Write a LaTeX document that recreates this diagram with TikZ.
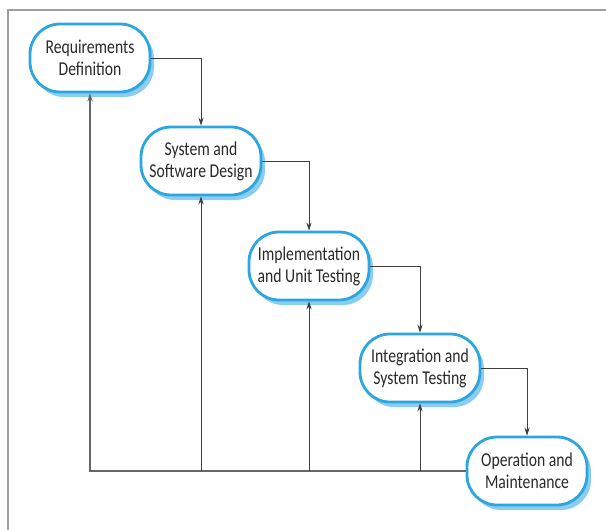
\documentclass[tikz,border=0pt]{standalone}
\usepackage{fontspec}
\newfontfamily\boxfont[FakeStretch=0.8]{Carlito}
\usetikzlibrary{arrows.meta,shadows}

\definecolor{boxblue}{HTML}{2BA6DE}
\definecolor{shadeblue}{HTML}{8ACDF0}
\definecolor{inkgray}{HTML}{2A2A2A}

\tikzset{
  phase/.style={draw=boxblue, line width=1.4pt, fill=white,
    rounded corners=15pt, minimum width=60pt, minimum height=34pt,
    align=center, text=inkgray, inner sep=2pt,
    font=\boxfont\fontsize{9.8}{11}\selectfont,
    drop shadow={shadow xshift=2pt, shadow yshift=-2.5pt,
      fill=shadeblue, opacity=1}},
  flow/.style={draw=inkgray!90, line width=0.5pt,
    -{Stealth[length=4pt,width=2.6pt]}},
  frame/.style={draw=gray!75, line width=1.1pt}
}

\begin{document}
\begin{tikzpicture}[x=0.5pt,y=-0.5pt]
  \useasboundingbox (0,0) rectangle (606,530);
  % page frame
  \draw[frame] (606,10) -- (8,10) -- (8,530);

  \node[phase] (req) at (90,58) {Requirements\\Definition};
  \node[phase] (sys) at (201,161) {System and\\Software Design};
  \node[phase] (impl) at (309,266) {Implementation\\and Unit Testing};
  \node[phase] (integ) at (420,368) {Integration and\\System Testing};
  \node[phase] (op) at (527,471) {Operation and\\Maintenance};

  % downward flow
  \draw[flow] (req.east) -| (sys.north);
  \draw[flow] (sys.east) -| (impl.north);
  \draw[flow] (impl.east) -| (integ.north);
  \draw[flow] (integ.east) -| (op.north);

  % feedback
  \draw[flow, draw=gray!80!black, line width=0.9pt] (op.west) -| (req.south);
  \draw[flow] (sys.south |- op.west) -- (sys.south);
  \draw[flow] (impl.south |- op.west) -- (impl.south);
  \draw[flow] (integ.south |- op.west) -- (integ.south);
\end{tikzpicture}
\end{document}
